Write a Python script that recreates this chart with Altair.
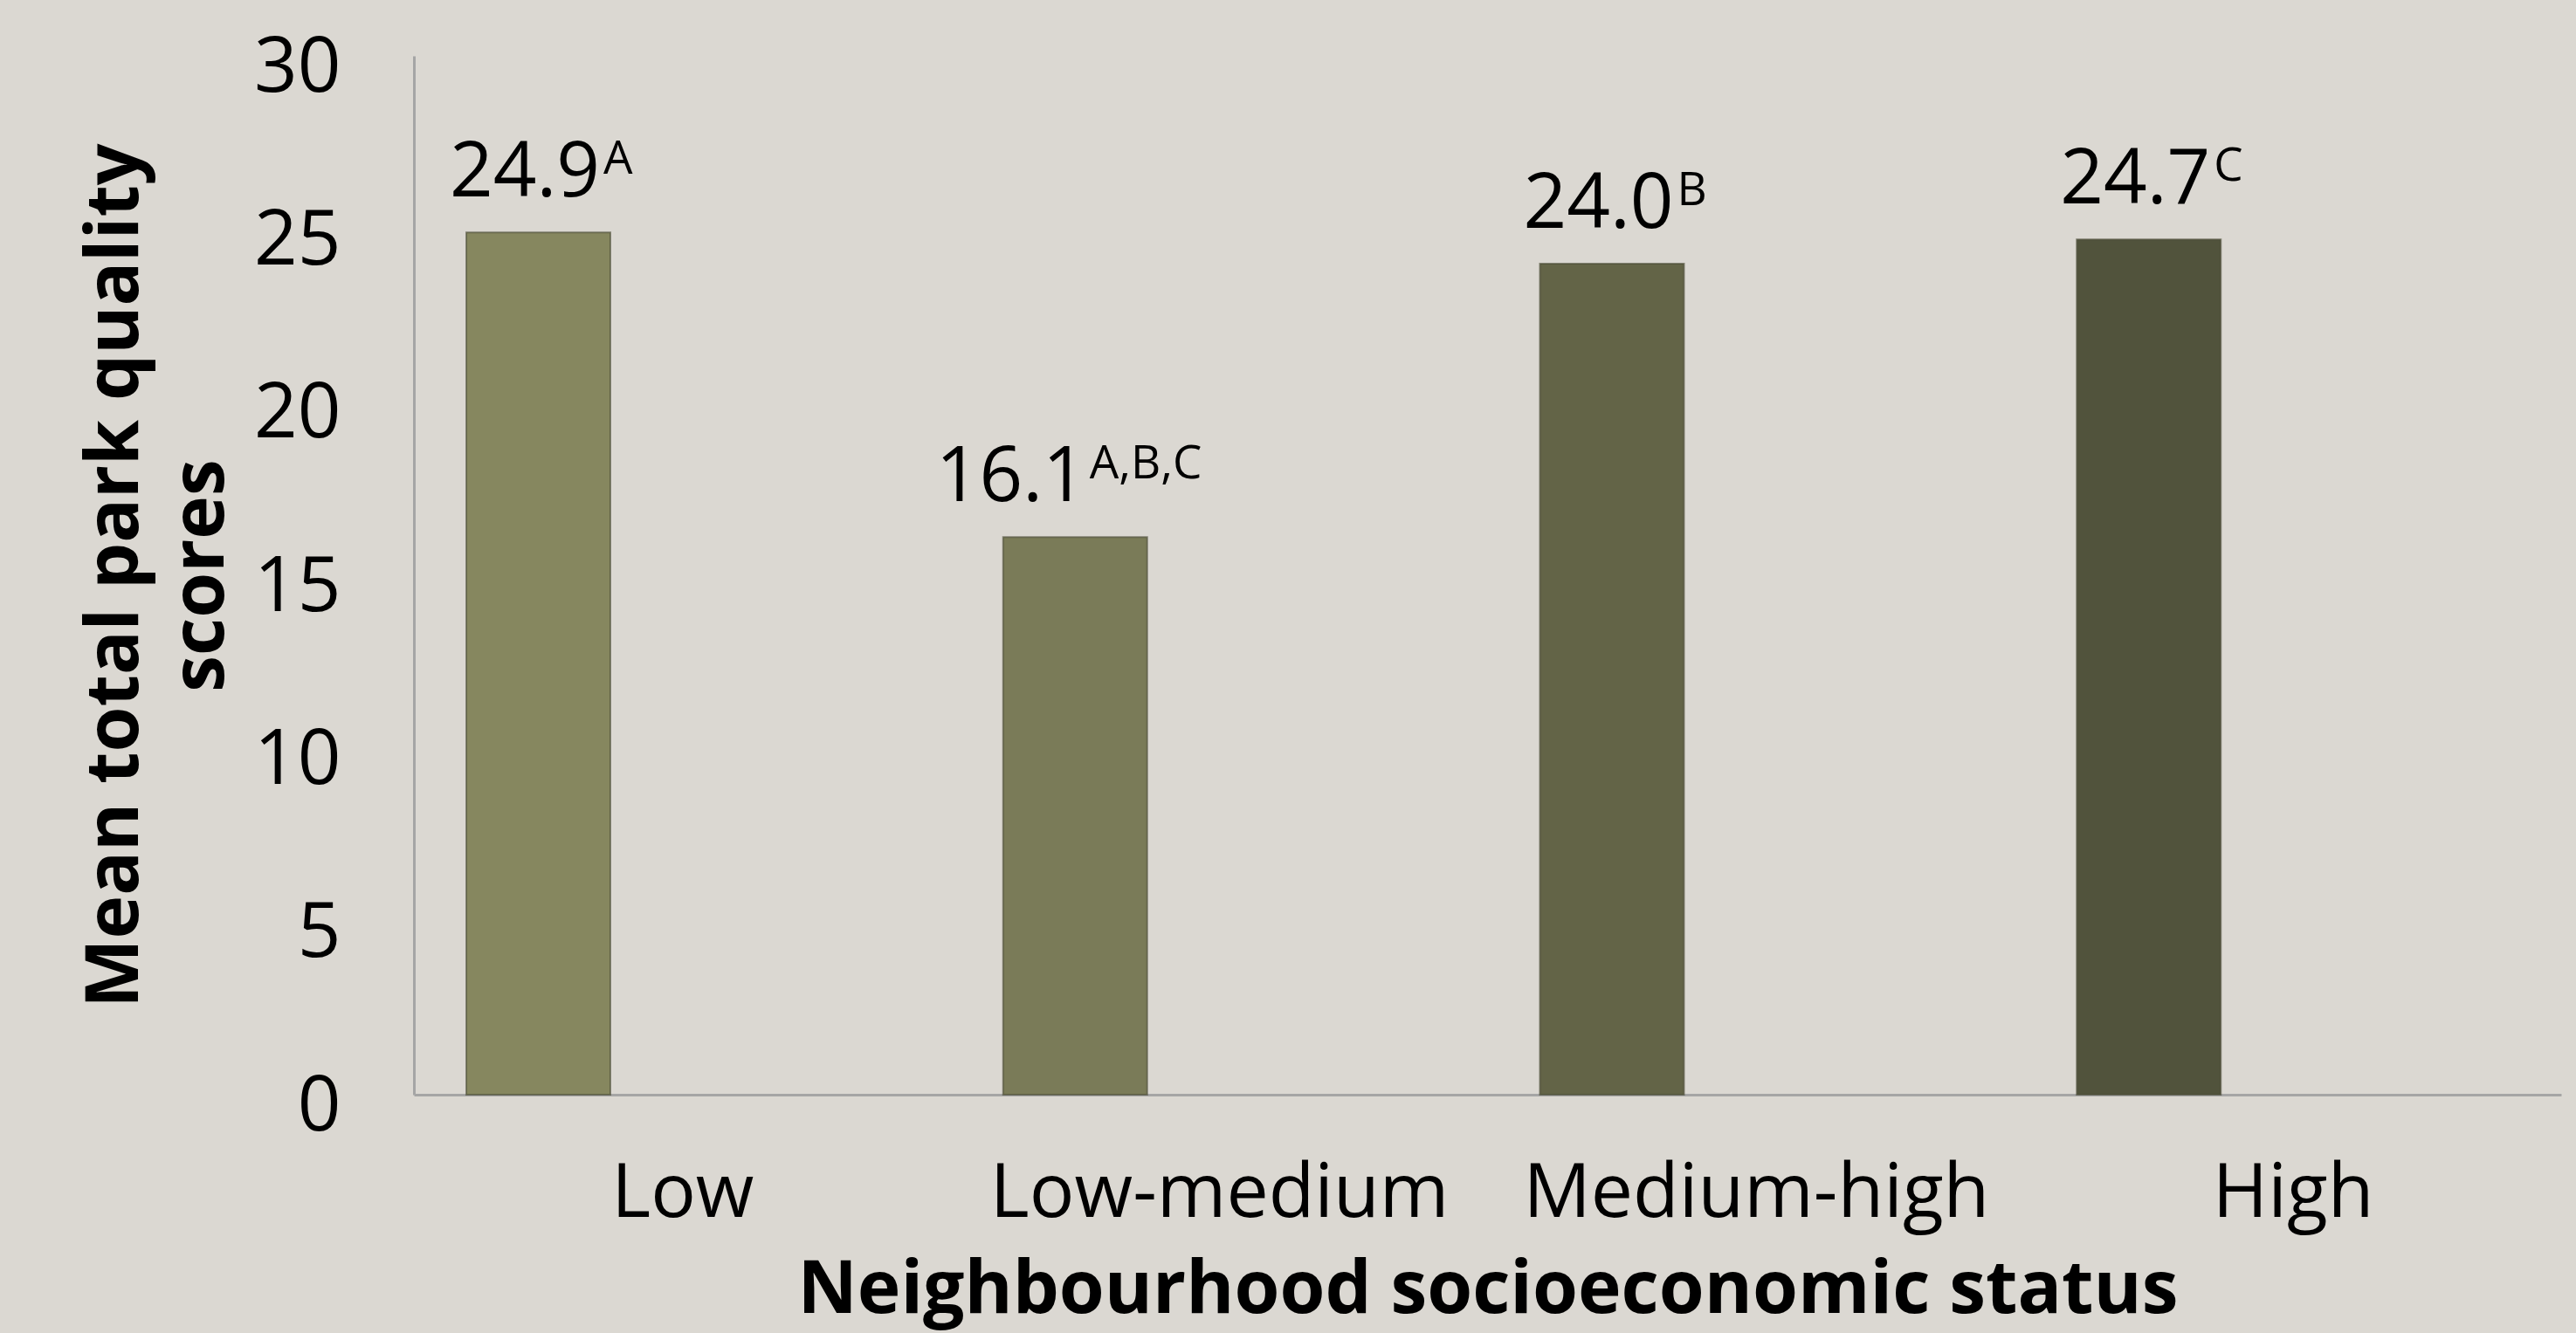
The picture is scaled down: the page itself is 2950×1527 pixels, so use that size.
import json
import altair as alt
import pandas as pd

# ---- data ----
categories = ["Low", "Low-medium", "Medium-high", "High"]
means = [24.9, 16.1, 24.0, 24.7]
value_labels = ["24.9", "16.1", "24.0", "24.7"]
superscripts = ["A", "A,B,C", "B", "C"]
y_ticks = [0, 5, 10, 15, 20, 25, 30]

# ---- styles ----
bar_colors = ["#86875f", "#7a7b58", "#636447", "#51533c"]
FONT = "Open Sans"
W, H = 2459, 1190
band_px = W / len(categories)
gap_px = 60          # space before each bar inside its category band
bar_px = 165         # bar width

df = pd.DataFrame({
    "cat": categories,
    "idx": list(range(len(categories))),
    "mean": means,
    "label": value_labels,
    "sup": superscripts,
})

x_scale = alt.Scale(domain=[0, len(categories)], nice=False, zero=False)
y_scale = alt.Scale(domain=[0, 30], nice=False)

label_expr = json.dumps(categories) + "[floor(datum.value)]"
x_axis = alt.Axis(
    values=[i + 0.5 for i in range(len(categories))],
    labelExpr=label_expr,
    title="Neighbourhood socioeconomic status",
    grid=False, ticks=False,
    labelFont=FONT, labelFontSize=86, labelColor="black", labelLimit=2000,
    labelBaseline="alphabetic", labelPadding=139,
    domainColor="#a5a5a5", domainWidth=3,
    titleFont=FONT, titleFontSize=84, titleFontWeight="bold", titleColor="black",
    titleBaseline="alphabetic", titleY=249, titleX=W / 2, titleLimit=3000,
)
y_axis = alt.Axis(
    values=y_ticks,
    title=["Mean total park quality", "scores"],
    grid=False, ticks=False,
    labelFont=FONT, labelFontSize=87, labelColor="black",
    labelPadding=84, labelOffset=14,
    domainColor="#a5a5a5", domainWidth=3,
    titleFont=FONT, titleFontSize=84, titleFontWeight="bold", titleColor="black",
    titleAngle=270, titleAlign="center", titleBaseline="alphabetic",
    titleLineHeight=98, titleX=-317, titleY=H / 2, titleLimit=3000,
)

base = alt.Chart(df).transform_calculate(
    x0=f"datum.idx + {gap_px / band_px}",
    x1=f"datum.idx + {(gap_px + bar_px) / band_px}",
    ctr=f"datum.idx + {(gap_px + bar_px / 2) / band_px}",
).transform_calculate(
    split=f"datum.ctr + (87 - 14.5 * length(datum.sup)) / {band_px}",
).transform_calculate(
    mx=f"datum.split - {2 / band_px}",
    sx=f"datum.split + {2 / band_px}",
)

bars = base.mark_bar(stroke="#4a4b35", strokeWidth=2, strokeOpacity=0.6).encode(
    x=alt.X("x0:Q", scale=x_scale, axis=x_axis),
    x2="x1:Q",
    y=alt.Y("mean:Q", scale=y_scale, axis=y_axis),
    y2=alt.datum(0),
    color=alt.Color("cat:N", scale=alt.Scale(domain=categories, range=bar_colors), legend=None),
)

main_text = base.mark_text(
    align="right", baseline="alphabetic", dy=-41,
    font=FONT, fontSize=87, color="black",
).encode(
    x=alt.X("mx:Q", scale=x_scale, axis=x_axis),
    y=alt.Y("mean:Q", scale=y_scale, axis=y_axis),
    text="label:N",
)

sup_text = base.mark_text(
    align="left", baseline="alphabetic", dy=-67,
    font=FONT, fontSize=53, color="black",
).encode(
    x=alt.X("sx:Q", scale=x_scale, axis=x_axis),
    y=alt.Y("mean:Q", scale=y_scale, axis=y_axis),
    text="sup:N",
)

chart = alt.layer(bars, main_text, sup_text).properties(
    width=W, height=H,
    background="#dbd8d2",
    padding={"left": 474, "top": 64, "right": 17, "bottom": 273},
    autosize=alt.AutoSizeParams(type="none"),
).configure_view(stroke=None)

chart.save("out.html", embed_options={"renderer": "svg", "actions": False})
